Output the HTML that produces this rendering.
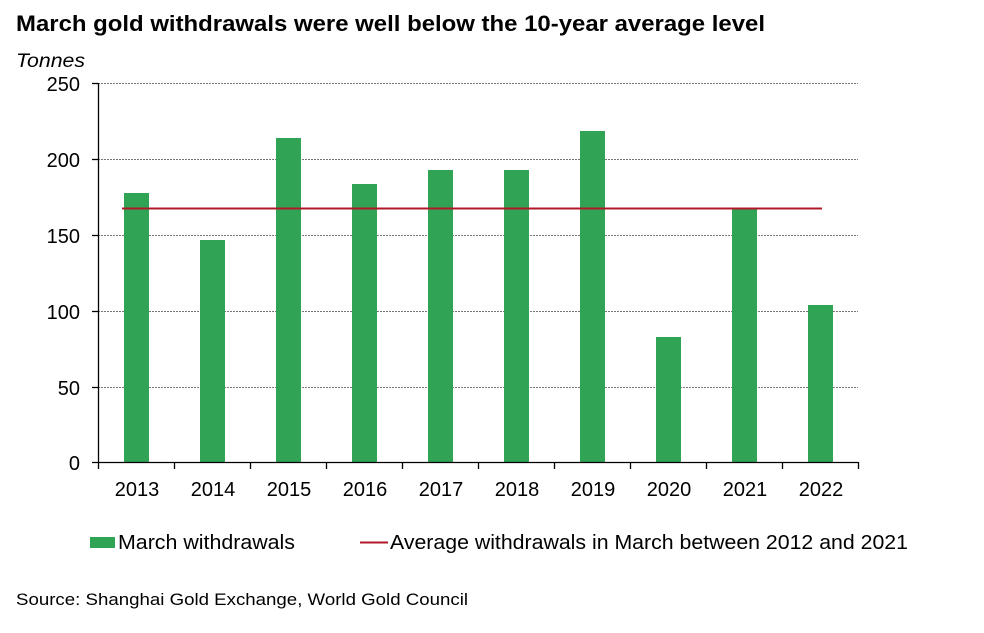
<!DOCTYPE html>
<html><head><meta charset="utf-8"><style>body{margin:0;background:#fff}svg{display:block}</style></head><body>
<svg width="984" height="633" xmlns="http://www.w3.org/2000/svg" font-family="Liberation Sans, Arial, sans-serif">
<text x="16" y="31" font-size="22" font-weight="bold" textLength="749" lengthAdjust="spacingAndGlyphs">March gold withdrawals were well below the 10-year average level</text>
<text x="16" y="67" font-size="19" font-style="italic" textLength="69" lengthAdjust="spacingAndGlyphs">Tonnes</text>
<g stroke="#777" stroke-dasharray="2,1" stroke-width="1">
<line x1="98" y1="83.5" x2="858" y2="83.5"/><line x1="98" y1="159.5" x2="858" y2="159.5"/><line x1="98" y1="235.5" x2="858" y2="235.5"/><line x1="98" y1="311.5" x2="858" y2="311.5"/><line x1="98" y1="387.5" x2="858" y2="387.5"/>
</g>
<g fill="#31a354">
<rect x="124" y="193" width="25" height="269"/>
<rect x="200" y="240" width="25" height="222"/>
<rect x="276" y="138" width="25" height="324"/>
<rect x="352" y="184" width="25" height="278"/>
<rect x="428" y="170" width="25" height="292"/>
<rect x="504" y="170" width="25" height="292"/>
<rect x="580" y="131" width="25" height="331"/>
<rect x="656" y="337" width="25" height="125"/>
<rect x="732" y="208" width="25" height="254"/>
<rect x="808" y="305" width="25" height="157"/>
</g>
<line x1="122" y1="208.5" x2="822" y2="208.5" stroke="#b0182a" stroke-width="2"/>
<g stroke="#000" stroke-width="1.3">
<line x1="98.5" y1="83" x2="98.5" y2="463"/><line x1="92" y1="462.5" x2="858" y2="462.5"/>
<line x1="92" y1="83.5" x2="98" y2="83.5"/><line x1="92" y1="159.5" x2="98" y2="159.5"/><line x1="92" y1="235.5" x2="98" y2="235.5"/><line x1="92" y1="311.5" x2="98" y2="311.5"/><line x1="92" y1="387.5" x2="98" y2="387.5"/>
<path d="M98.5 462v7M174.5 462v7M250.5 462v7M326.5 462v7M402.5 462v7M478.5 462v7M554.5 462v7M630.5 462v7M706.5 462v7M782.5 462v7M858.5 462v7"/>
</g>
<g font-size="20" text-anchor="end">
<text x="80" y="91">250</text><text x="80" y="167">200</text><text x="80" y="243">150</text><text x="80" y="319">100</text><text x="80" y="395">50</text><text x="80" y="470">0</text>
</g>
<g font-size="20" text-anchor="middle">
<text x="137" y="496">2013</text><text x="213" y="496">2014</text><text x="289" y="496">2015</text><text x="365" y="496">2016</text><text x="441" y="496">2017</text><text x="517" y="496">2018</text><text x="593" y="496">2019</text><text x="669" y="496">2020</text><text x="745" y="496">2021</text><text x="821" y="496">2022</text>
</g>
<rect x="90" y="537" width="25" height="11" fill="#31a354"/>
<text x="118" y="549" font-size="20" textLength="177" lengthAdjust="spacingAndGlyphs">March withdrawals</text>
<line x1="360" y1="542.5" x2="388" y2="542.5" stroke="#b0182a" stroke-width="2"/>
<text x="390" y="549" font-size="20" textLength="518" lengthAdjust="spacingAndGlyphs">Average withdrawals in March between 2012 and 2021</text>
<text x="16" y="605" font-size="17" textLength="452" lengthAdjust="spacingAndGlyphs">Source: Shanghai Gold Exchange, World Gold Council</text>
</svg>
</body></html>
